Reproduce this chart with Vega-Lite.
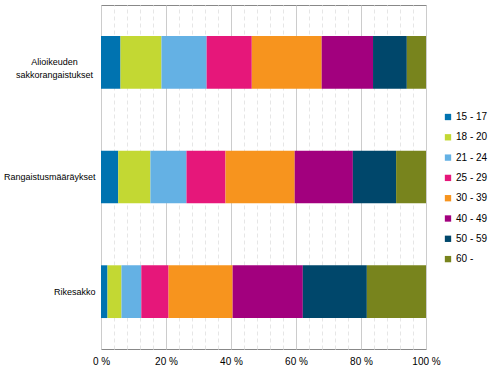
{
  "$schema": "https://vega.github.io/schema/vega-lite/v6.json",
  "autosize": "none",
  "padding": {"left": 101, "top": 5, "right": 66, "bottom": 29},
  "width": 325,
  "height": 344,
  "config": {
    "font": "Liberation Sans",
    "view": {"stroke": "#888888", "strokeWidth": 1}
  },
  "data": {
    "values": [
      {"cat": "Alioikeuden sakkorangaistukset", "age": "15 - 17", "o": 1, "v": 6.0},
      {"cat": "Alioikeuden sakkorangaistukset", "age": "18 - 20", "o": 2, "v": 12.6},
      {"cat": "Alioikeuden sakkorangaistukset", "age": "21 - 24", "o": 3, "v": 13.9},
      {"cat": "Alioikeuden sakkorangaistukset", "age": "25 - 29", "o": 4, "v": 13.9},
      {"cat": "Alioikeuden sakkorangaistukset", "age": "30 - 39", "o": 5, "v": 21.5},
      {"cat": "Alioikeuden sakkorangaistukset", "age": "40 - 49", "o": 6, "v": 15.8},
      {"cat": "Alioikeuden sakkorangaistukset", "age": "50 - 59", "o": 7, "v": 10.4},
      {"cat": "Alioikeuden sakkorangaistukset", "age": "60 -", "o": 8, "v": 5.9},
      {"cat": "Rangaistusmääräykset", "age": "15 - 17", "o": 1, "v": 5.3},
      {"cat": "Rangaistusmääräykset", "age": "18 - 20", "o": 2, "v": 9.9},
      {"cat": "Rangaistusmääräykset", "age": "21 - 24", "o": 3, "v": 11.1},
      {"cat": "Rangaistusmääräykset", "age": "25 - 29", "o": 4, "v": 12.0},
      {"cat": "Rangaistusmääräykset", "age": "30 - 39", "o": 5, "v": 21.3},
      {"cat": "Rangaistusmääräykset", "age": "40 - 49", "o": 6, "v": 17.9},
      {"cat": "Rangaistusmääräykset", "age": "50 - 59", "o": 7, "v": 13.3},
      {"cat": "Rangaistusmääräykset", "age": "60 -", "o": 8, "v": 9.2},
      {"cat": "Rikesakko", "age": "15 - 17", "o": 1, "v": 2.0},
      {"cat": "Rikesakko", "age": "18 - 20", "o": 2, "v": 4.3},
      {"cat": "Rikesakko", "age": "21 - 24", "o": 3, "v": 6.1},
      {"cat": "Rikesakko", "age": "25 - 29", "o": 4, "v": 8.4},
      {"cat": "Rikesakko", "age": "30 - 39", "o": 5, "v": 19.7},
      {"cat": "Rikesakko", "age": "40 - 49", "o": 6, "v": 21.6},
      {"cat": "Rikesakko", "age": "50 - 59", "o": 7, "v": 19.7},
      {"cat": "Rikesakko", "age": "60 -", "o": 8, "v": 18.2}
    ]
  },
  "mark": {"type": "bar"},
  "encoding": {
    "y": {
      "field": "cat",
      "type": "nominal",
      "sort": null,
      "title": null,
      "scale": {"paddingInner": 0.54, "paddingOuter": 0.27},
      "axis": {
        "ticks": false,
        "domain": false,
        "labelFontSize": 9,
        "labelColor": "#000000",
        "labelLineHeight": 13,
        "labelLimit": 200,
        "labelExpr": "datum.value == 'Alioikeuden sakkorangaistukset' ? ['Alioikeuden', 'sakkorangaistukset'] : datum.value",
        "labelAlign": {"condition": {"test": "datum.value == 'Alioikeuden sakkorangaistukset'", "value": "center"}, "value": "right"},
        "labelPadding": {"condition": {"test": "datum.value == 'Alioikeuden sakkorangaistukset'", "value": 47}, "value": 6}
      }
    },
    "x": {
      "field": "v",
      "type": "quantitative",
      "stack": "normalize",
      "title": null,
      "scale": {"domain": [0, 1], "nice": false},
      "axis": {
        "values": [0, 0.04, 0.08, 0.12, 0.16, 0.2, 0.24, 0.28, 0.32, 0.36, 0.4, 0.44, 0.48, 0.52, 0.56, 0.6, 0.64, 0.68, 0.72, 0.76, 0.8, 0.84, 0.88, 0.92, 0.96, 1],
        "labelExpr": "(round(datum.value * 100) % 20 == 0) ? format(datum.value * 100, '.0f') + ' %' : ''",
        "ticks": false,
        "domain": false,
        "labelFontSize": 10,
        "labelColor": "#000000",
        "labelPadding": 7,
        "labelOverlap": false,
        "labelFlush": false,
        "gridColor": {"condition": {"test": "round(datum.value * 100) % 20 == 0", "value": "#cccccc"}, "value": "#e6e6e6"},
        "gridDash": {"condition": {"test": "round(datum.value * 100) % 20 == 0", "value": []}, "value": [4, 3]}
      }
    },
    "color": {
      "field": "age",
      "type": "nominal",
      "sort": ["15 - 17", "18 - 20", "21 - 24", "25 - 29", "30 - 39", "40 - 49", "50 - 59", "60 -"],
      "scale": {
        "domain": ["15 - 17", "18 - 20", "21 - 24", "25 - 29", "30 - 39", "40 - 49", "50 - 59", "60 -"],
        "range": ["#0073B0", "#C3D833", "#64B1E4", "#E6177A", "#F7941E", "#A2007E", "#00476B", "#78841D"]
      },
      "legend": {
        "title": null,
        "orient": "none",
        "legendX": 342,
        "legendY": 107,
        "padding": 0,
        "symbolType": "square",
        "symbolSize": 40,
        "symbolStrokeWidth": 0,
        "labelFontSize": 10,
        "labelColor": "#000000",
        "labelOffset": 3,
        "rowPadding": 10.3
      }
    },
    "order": {"field": "o", "type": "quantitative"}
  }
}
